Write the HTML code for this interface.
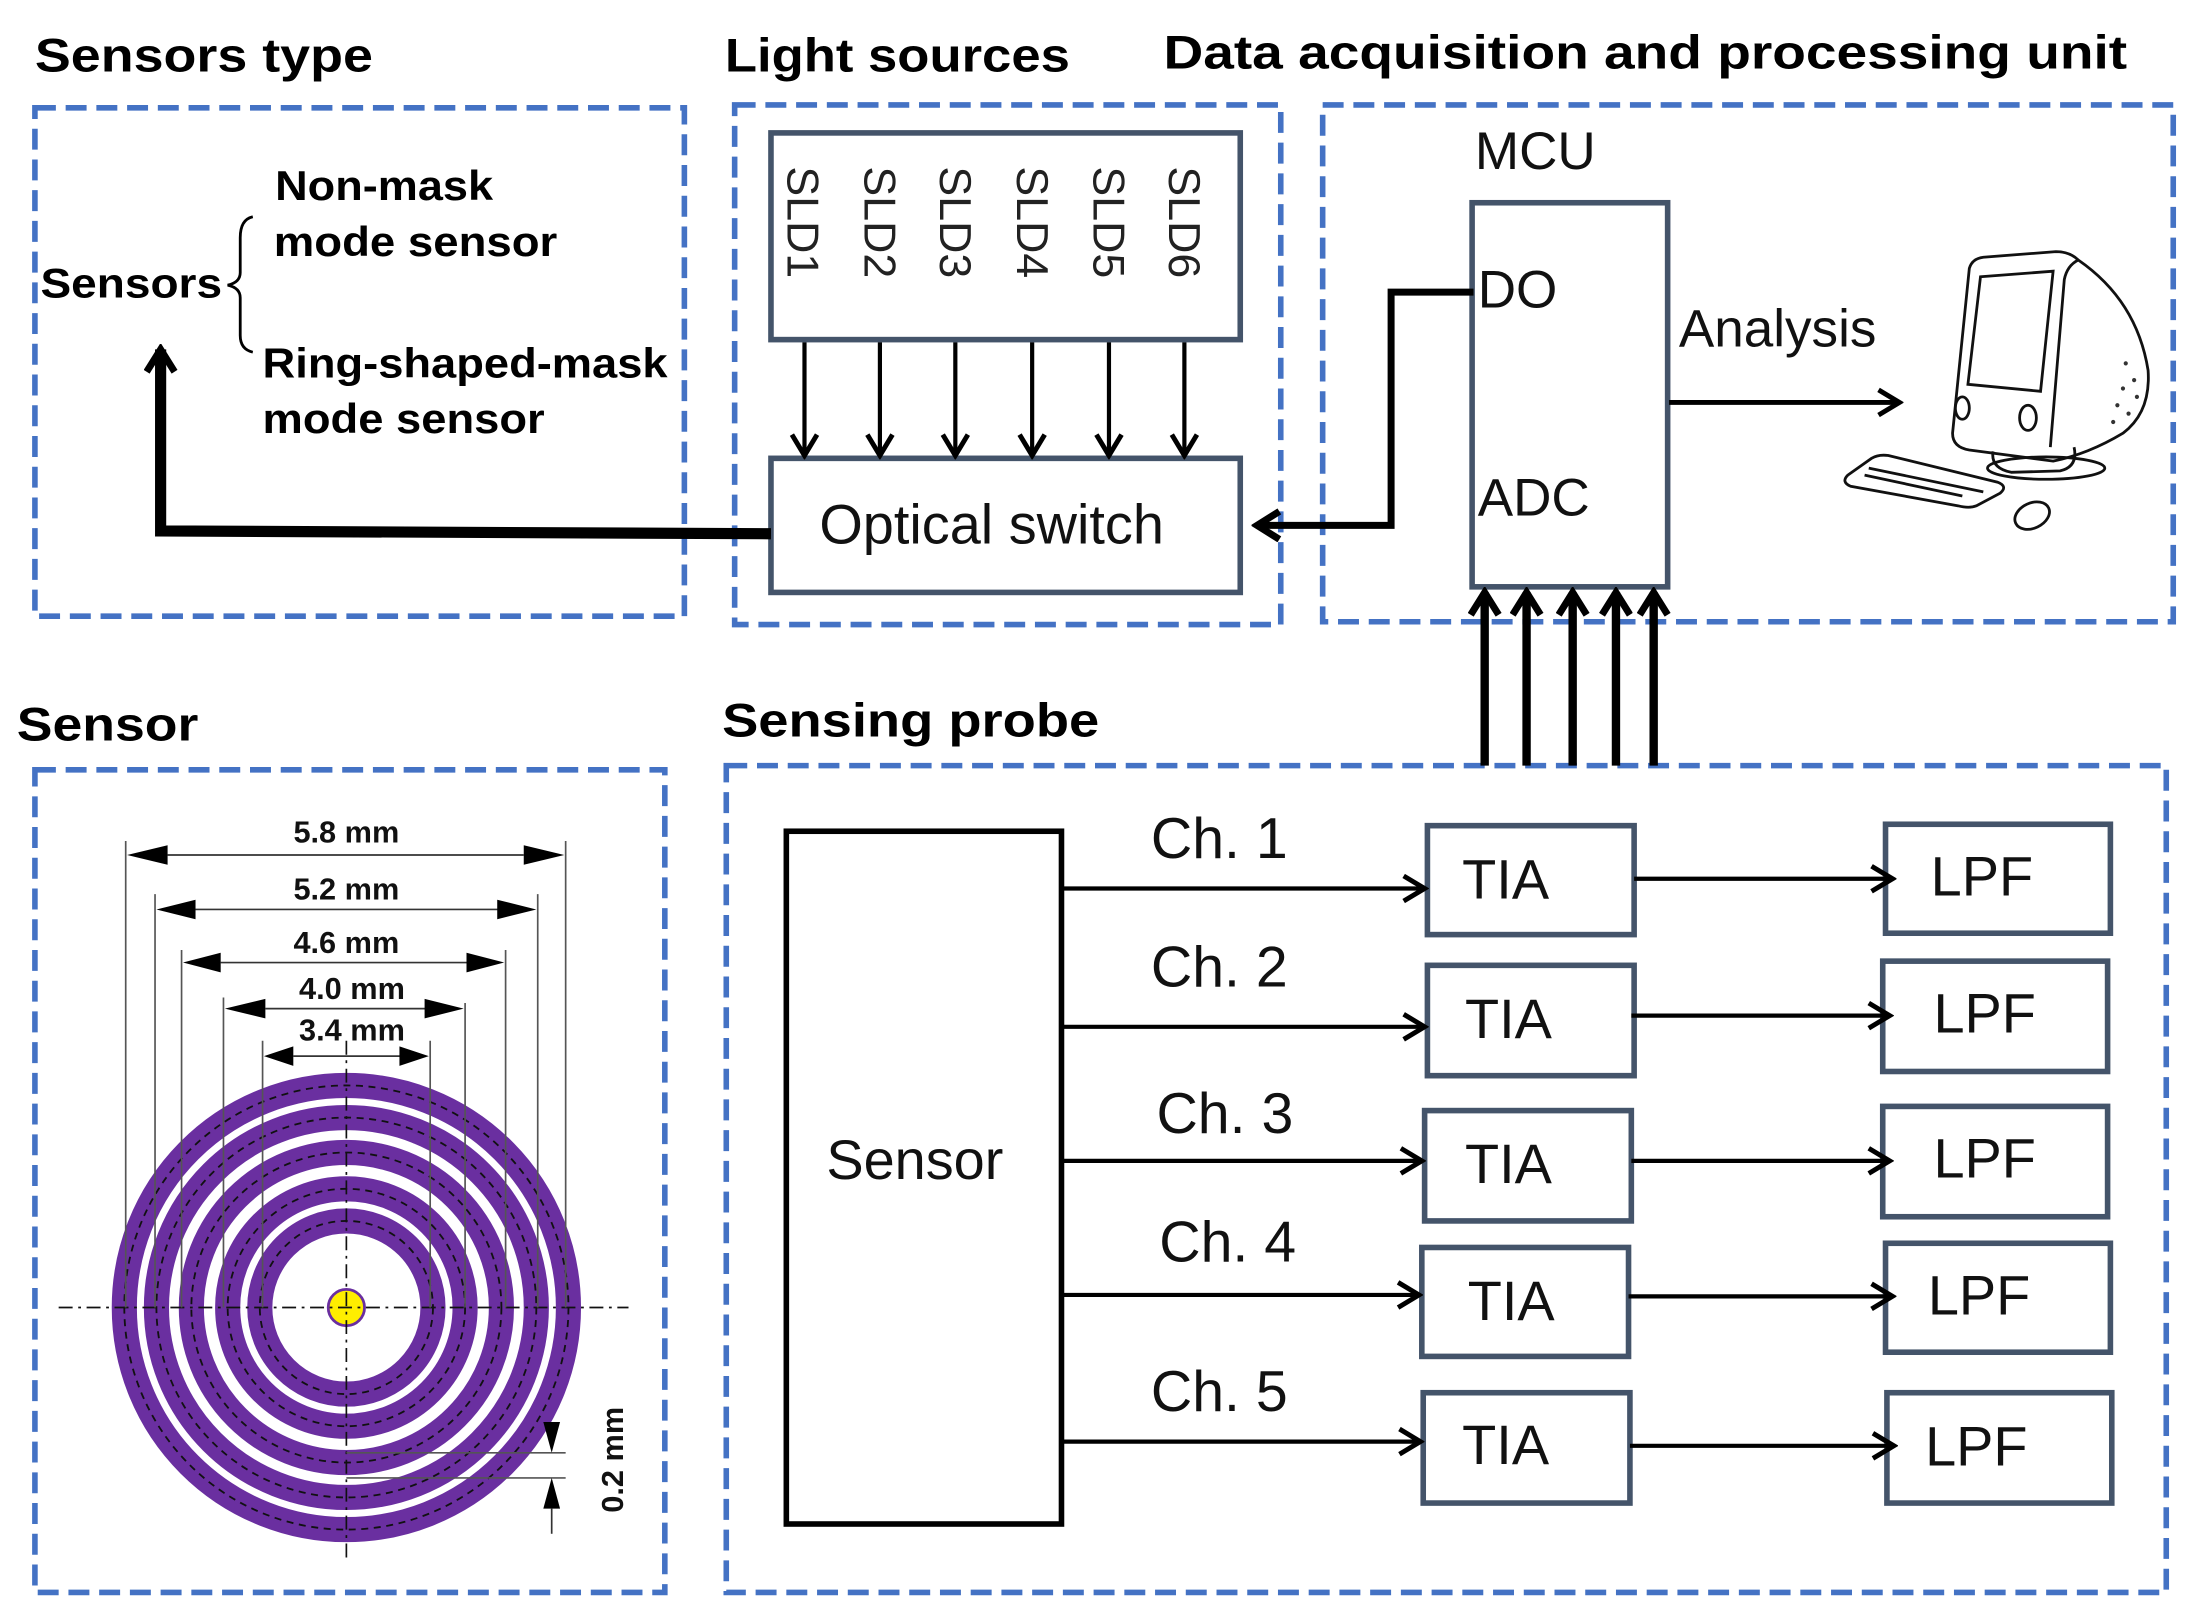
<!DOCTYPE html>
<html><head><meta charset="utf-8"><style>html,body{margin:0;padding:0;background:#fff}svg{display:block}</style></head><body>
<svg width="2190" height="1622" viewBox="0 0 1568 1161" xmlns="http://www.w3.org/2000/svg" font-family="Liberation Sans, sans-serif">
<defs>
<marker id="v" viewBox="0 0 22 22" refX="19" refY="11" markerWidth="22" markerHeight="22" markerUnits="userSpaceOnUse" orient="auto"><polyline points="4,2 19,11 4,20" fill="none" stroke="#000" stroke-width="3.5"/></marker>
<marker id="vb" viewBox="0 0 24 24" refX="20" refY="12" markerWidth="24" markerHeight="24" markerUnits="userSpaceOnUse" orient="auto"><polyline points="4,2 20,12 4,22" fill="none" stroke="#000" stroke-width="5"/></marker>
</defs>
<g fill="none" stroke="#4472c4" stroke-width="4" stroke-dasharray="15,7">
<rect x="25" y="77" width="465" height="364"/>
<rect x="526" y="75" width="391" height="372"/>
<rect x="947" y="75" width="609" height="370"/>
<rect x="25" y="551" width="451" height="589"/>
<rect x="520" y="548" width="1031" height="592"/>
</g>
<g font-weight="bold" font-size="34" fill="#000">
<text x="25" y="51" textLength="242" lengthAdjust="spacingAndGlyphs">Sensors type</text>
<text x="519" y="51" textLength="247" lengthAdjust="spacingAndGlyphs">Light sources</text>
<text x="833" y="49" textLength="690" lengthAdjust="spacingAndGlyphs">Data acquisition and processing unit</text>
<text x="12" y="530" textLength="130" lengthAdjust="spacingAndGlyphs">Sensor</text>
<text x="517" y="527" textLength="270" lengthAdjust="spacingAndGlyphs">Sensing probe</text>
</g>
<g font-weight="bold" font-size="30" fill="#000">
<text x="29" y="213" textLength="130" lengthAdjust="spacingAndGlyphs">Sensors</text>
<text x="197" y="143" textLength="156" lengthAdjust="spacingAndGlyphs">Non-mask</text>
<text x="196" y="183" textLength="203" lengthAdjust="spacingAndGlyphs">mode sensor</text>
<text x="188" y="270" textLength="290" lengthAdjust="spacingAndGlyphs">Ring-shaped-mask</text>
<text x="188" y="310" textLength="202" lengthAdjust="spacingAndGlyphs">mode sensor</text>
</g>
<path d="M181,155 Q172,157 172,170 L172,195 Q172,202 163,204 Q172,206 172,213 L172,240 Q172,250 181,252" fill="none" stroke="#000" stroke-width="2"/>
<g fill="none" stroke="#44546a" stroke-width="4">
<rect x="552" y="95" width="336" height="148"/>
<rect x="552" y="328" width="336" height="96"/>
<rect x="1054" y="145" width="140" height="275"/>
<rect x="563" y="595" width="197" height="496" stroke="#000"/>
<rect x="1022" y="591" width="148" height="78"/>
<rect x="1022" y="691" width="148" height="79"/>
<rect x="1020" y="795" width="148" height="79"/>
<rect x="1018" y="893" width="148" height="78"/>
<rect x="1019" y="997" width="148" height="79"/>
<rect x="1350" y="590" width="161" height="78"/>
<rect x="1348" y="688" width="161" height="79"/>
<rect x="1348" y="792" width="161" height="79"/>
<rect x="1350" y="890" width="161" height="78"/>
<rect x="1351" y="997" width="161" height="79"/>
</g>
<g font-size="32" fill="#222">
<text transform="translate(564,119) rotate(90)">SLD1</text>
<text transform="translate(619,119) rotate(90)">SLD2</text>
<text transform="translate(673,119) rotate(90)">SLD3</text>
<text transform="translate(728,119) rotate(90)">SLD4</text>
<text transform="translate(783,119) rotate(90)">SLD5</text>
<text transform="translate(837,119) rotate(90)">SLD6</text>
</g>
<g stroke="#000" stroke-width="3" marker-end="url(#v)">
<line x1="576" y1="245" x2="576" y2="326"/>
<line x1="630" y1="245" x2="630" y2="326"/>
<line x1="684" y1="245" x2="684" y2="326"/>
<line x1="739" y1="245" x2="739" y2="326"/>
<line x1="794" y1="245" x2="794" y2="326"/>
<line x1="848" y1="245" x2="848" y2="326"/>
</g>
<text x="710" y="389" font-size="40" text-anchor="middle" fill="#111">Optical switch</text>
<polyline points="552,382 115,380 115,250" fill="none" stroke="#000" stroke-width="8" marker-end="url(#vb)"/>
<polyline points="1055,209 996,209 996,376 900,376" fill="none" stroke="#000" stroke-width="5" marker-end="url(#vb)"/>
<g font-size="38" fill="#111">
<text x="1056" y="121">MCU</text>
<text x="1058" y="220">DO</text>
<text x="1058" y="369">ADC</text>
<text x="1202" y="248">Analysis</text>
<text x="655" y="844" text-anchor="middle" font-size="40">Sensor</text>
</g>
<g font-size="41" fill="#111">
<text x="824" y="614">Ch. 1</text>
<text x="824" y="706">Ch. 2</text>
<text x="828" y="811">Ch. 3</text>
<text x="830" y="903">Ch. 4</text>
<text x="824" y="1010">Ch. 5</text>
</g>
<g font-size="40" fill="#111" text-anchor="middle">
<text x="1078" y="643">TIA</text>
<text x="1080" y="743">TIA</text>
<text x="1080" y="847">TIA</text>
<text x="1082" y="945">TIA</text>
<text x="1078" y="1048">TIA</text>
<text x="1419" y="641">LPF</text>
<text x="1421" y="739">LPF</text>
<text x="1421" y="843">LPF</text>
<text x="1417" y="941">LPF</text>
<text x="1415" y="1049">LPF</text>
</g>
<line x1="1195" y1="288" x2="1360" y2="288" stroke="#000" stroke-width="3.5" marker-end="url(#v)"/>
<g stroke="#000" stroke-width="6" marker-end="url(#vb)">
<line x1="1063" y1="548" x2="1063" y2="424"/>
<line x1="1093" y1="548" x2="1093" y2="424"/>
<line x1="1126" y1="548" x2="1126" y2="424"/>
<line x1="1157" y1="548" x2="1157" y2="424"/>
<line x1="1184" y1="548" x2="1184" y2="424"/>
</g>
<g stroke="#000" stroke-width="3" marker-end="url(#v)">
<line x1="760" y1="636" x2="1020" y2="636"/>
<line x1="760" y1="735" x2="1020" y2="735"/>
<line x1="760" y1="831" x2="1018" y2="831"/>
<line x1="760" y1="927" x2="1016" y2="927"/>
<line x1="760" y1="1032" x2="1017" y2="1032"/>
<line x1="1170" y1="629" x2="1355" y2="629"/>
<line x1="1168" y1="727" x2="1353" y2="727"/>
<line x1="1168" y1="831" x2="1353" y2="831"/>
<line x1="1166" y1="928" x2="1355" y2="928"/>
<line x1="1167" y1="1035" x2="1356" y2="1035"/>
</g>
<g fill="none" stroke="#111" stroke-width="2">
<path d="M1410,192 Q1412,185 1420,184 L1472,180 Q1482,180 1488,186 Q1530,215 1538,265 Q1540,295 1520,310 Q1495,325 1470,330 L1410,322 Q1398,320 1398,310 Z"/>
<path d="M1488,186 Q1480,190 1478,200 L1468,320"/>
<path d="M1418,198 L1470,194 L1461,280 L1409,275 Z"/>
<ellipse cx="1405" cy="292" rx="5" ry="8"/>
<ellipse cx="1452" cy="299" rx="6" ry="9"/>
<path d="M1427,323 Q1425,335 1440,338 L1475,337 Q1488,334 1485,320"/>
<ellipse cx="1465" cy="335" rx="42" ry="8"/>
<path d="M1323,340 L1340,328 Q1345,325 1352,326 L1430,345 Q1438,348 1432,353 L1415,362 Q1410,364 1402,362 L1325,348 Q1318,345 1323,340 Z"/>
<path d="M1338,335 L1420,352 M1335,340 L1405,355"/>
<ellipse cx="1455" cy="369" rx="13" ry="9" transform="rotate(-25 1455 369)"/>
</g>
<g fill="#333"><circle cx="1522" cy="260" r="1.5"/><circle cx="1528" cy="272" r="1.5"/><circle cx="1520" cy="278" r="1.5"/><circle cx="1530" cy="284" r="1.5"/><circle cx="1516" cy="290" r="1.5"/><circle cx="1524" cy="296" r="1.5"/><circle cx="1513" cy="302" r="1.5"/></g>
<g fill="none" stroke="#6a2fa0">
<circle cx="248" cy="936" r="159" stroke-width="18"/>
<circle cx="248" cy="936" r="136" stroke-width="18"/>
<circle cx="248" cy="936" r="111" stroke-width="18"/>
<circle cx="248" cy="936" r="85" stroke-width="18"/>
<circle cx="248" cy="936" r="62" stroke-width="18"/>
</g>
<g fill="none" stroke="#111" stroke-width="1.3" stroke-dasharray="5,4">
<circle cx="248" cy="936" r="159"/><circle cx="248" cy="936" r="136"/><circle cx="248" cy="936" r="111"/><circle cx="248" cy="936" r="85"/><circle cx="248" cy="936" r="62"/>
</g>
<circle cx="248" cy="936" r="13" fill="#ffee00" stroke="#6a2fa0" stroke-width="2"/>
<g stroke="#111" stroke-width="1.2" stroke-dasharray="10,4,2,4">
<line x1="42" y1="936" x2="450" y2="936"/>
<line x1="248" y1="745" x2="248" y2="1118"/>
</g>
<g stroke="#555" stroke-width="1.2">
<line x1="90" y1="602" x2="90" y2="936"/><line x1="405" y1="602" x2="405" y2="936"/>
<line x1="111" y1="640" x2="111" y2="936"/><line x1="385" y1="640" x2="385" y2="936"/>
<line x1="130" y1="680" x2="130" y2="936"/><line x1="362" y1="680" x2="362" y2="936"/>
<line x1="160" y1="714" x2="160" y2="936"/><line x1="333" y1="718" x2="333" y2="936"/>
<line x1="188" y1="745" x2="188" y2="936"/><line x1="308" y1="745" x2="308" y2="936"/>
<line x1="248" y1="1040" x2="405" y2="1040"/><line x1="248" y1="1058" x2="405" y2="1058"/>
</g>
<g stroke="#333" stroke-width="1.2">
<line x1="120" y1="612" x2="375" y2="612"/><line x1="140" y1="651" x2="360" y2="651"/><line x1="158" y1="689" x2="337" y2="689"/><line x1="190" y1="722" x2="308" y2="722"/><line x1="210" y1="756" x2="288" y2="756"/>
</g>
<g fill="#000">
<polygon points="91,612 120,605 120,619"/><polygon points="404,612 375,605 375,619"/>
<polygon points="112,651 140,644 140,658"/><polygon points="384,651 356,644 356,658"/>
<polygon points="131,689 158,682 158,696"/><polygon points="361,689 334,682 334,696"/>
<polygon points="161,722 190,715 190,729"/><polygon points="332,722 304,715 304,729"/>
<polygon points="189,756 210,749 210,763"/><polygon points="307,756 286,749 286,763"/>
<polygon points="395,1040 389,1018 401,1018"/><polygon points="395,1058 389,1080 401,1080"/>
</g>
<line x1="395" y1="1080" x2="395" y2="1098" stroke="#333" stroke-width="1.2"/>
<g font-weight="bold" font-size="22" fill="#111" text-anchor="middle">
<text x="248" y="603">5.8 mm</text>
<text x="248" y="644">5.2 mm</text>
<text x="248" y="682">4.6 mm</text>
<text x="252" y="715">4.0 mm</text>
<text x="252" y="745">3.4 mm</text>
<text transform="translate(446,1045) rotate(-90)">0.2 mm</text>
</g>
</svg>
</body></html>
